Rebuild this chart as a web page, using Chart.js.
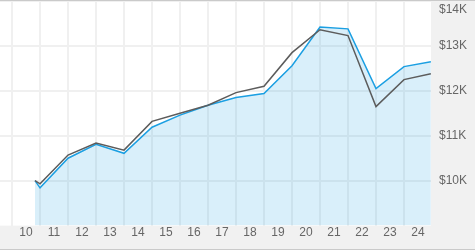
<!DOCTYPE html>
<html>
<head>
<meta charset="utf-8">
<script src="https://cdn.jsdelivr.net/npm/chart.js@4.4.1/dist/chart.umd.min.js"></script>
<style>
    body { margin: 0; background: #fff; }
    #wrap {
        width: 475px;
        height: 248px;
        border-top: 1px solid #cacaca;
        border-bottom: 1px solid #cacaca;
    }
    canvas { display: block; }
</style>
</head>
<body>
<div id="wrap"><canvas id="growthChart" width="475" height="248"></canvas></div>
<script>
// decimal year of each point (inception, then year ends, then latest)
const pointDates = [2010.82, 2011, 2012, 2013, 2014, 2015, 2016, 2017, 2018, 2019, 2020, 2021, 2022, 2023, 2024, 2024.96];
const fundValues = [10000, 9840, 10500, 10810, 10610, 11190, 11460, 11680, 11850, 11940, 12560, 13420, 13380, 12050, 12540, 12650];
const benchmarkValues = [10000, 9930, 10570, 10840, 10680, 11320, 11500, 11680, 11960, 12100, 12850, 13360, 13230, 11650, 12250, 12380];
const tickYears = [2010, 2011, 2012, 2013, 2014, 2015, 2016, 2017, 2018, 2019, 2020, 2021, 2022, 2023, 2024];
const yTicks = [10000, 11000, 12000, 13000, 14000];

const labelFont = "12px 'Liberation Sans', Arial, sans-serif";
const labelColor = "#666";

function toPoints(values) {
    return values.map((v, i) => ({ x: pointDates[i], y: v }));
}

// grey panels behind the axes, white plot area
const panelPlugin = {
    id: "panels",
    beforeDraw(chart) {
        const { ctx, chartArea, width, height } = chart;
        ctx.save();
        ctx.fillStyle = "#f1f1f1";
        ctx.fillRect(0, 0, width, height);
        ctx.fillStyle = "#fff";
        ctx.fillRect(chartArea.left, chartArea.top, chartArea.right - chartArea.left, chartArea.bottom - chartArea.top);
        ctx.restore();
    },
};

// dollar labels on the right, top one kept inside the canvas
const yLabelPlugin = {
    id: "yLabels",
    afterDraw(chart) {
        const { ctx, chartArea } = chart;
        const yScale = chart.scales.y;
        ctx.save();
        ctx.font = labelFont;
        ctx.fillStyle = labelColor;
        ctx.textAlign = "left";
        ctx.textBaseline = "middle";
        yTicks.forEach((v) => {
            let y = Math.max(yScale.getPixelForValue(v), 9);
            ctx.fillText("$" + v / 1000 + "K", chartArea.right + 8, y);
        });
        ctx.restore();
    },
};

const ctx = document.getElementById("growthChart").getContext("2d");

new Chart(ctx, {
    type: "line",
    data: {
        datasets: [
            {
                label: "Benchmark",
                data: toPoints(benchmarkValues),
                borderColor: "#5c5c5c",
                borderWidth: 1.5,
                pointRadius: 0,
                fill: false,
                tension: 0,
            },
            {
                label: "Fund",
                data: toPoints(fundValues),
                borderColor: "#1b9fe2",
                backgroundColor: "rgba(27, 159, 226, 0.17)",
                borderWidth: 1.5,
                pointRadius: 0,
                fill: "start",
                tension: 0,
            },
        ],
    },
    options: {
        responsive: false,
        animation: false,
        layout: { padding: { top: 0, right: 44, bottom: 9, left: 0 } },
        plugins: {
            legend: { display: false },
            tooltip: { enabled: false },
        },
        scales: {
            x: {
                type: "linear",
                min: 2009.57,
                max: 2024.965,
                afterBuildTicks: (scale) => {
                    scale.ticks = tickYears.map((v) => ({ value: v }));
                },
                grid: { color: "#f0f0f0", lineWidth: 2, drawTicks: false },
                border: { display: false },
                ticks: {
                    autoSkip: false,
                    maxRotation: 0,
                    labelOffset: 14,
                    padding: 0,
                    color: labelColor,
                    font: { family: "'Liberation Sans', Arial, sans-serif", size: 12 },
                    callback: (v) => String(v % 100),
                },
            },
            y: {
                position: "right",
                min: 9000,
                max: 14000,
                afterBuildTicks: (scale) => {
                    scale.ticks = yTicks.map((v) => ({ value: v }));
                },
                grid: { color: "#f0f0f0", lineWidth: 2, drawTicks: false },
                border: { display: false },
                ticks: { display: false },
            },
        },
    },
    plugins: [panelPlugin, yLabelPlugin],
});
</script>
</body>
</html>
